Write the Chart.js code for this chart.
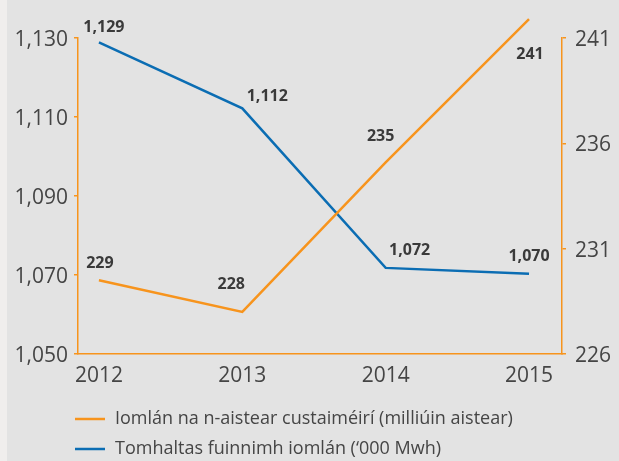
<!DOCTYPE html>
<html>
<head>
<meta charset="utf-8">
<script src="https://cdn.jsdelivr.net/npm/chart.js@4/dist/chart.umd.min.js"></script>
<style>
  html, body { margin: 0; padding: 0; background: #f0eeed; }
  #wrap { position: absolute; left: 7px; top: 0; width: 612px; height: 461px; background: #e3e3e3; }
  canvas { position: absolute; left: 0; top: 0; }
</style>
</head>
<body>
<div id="wrap"></div>
<canvas id="chart" width="619" height="461"></canvas>
<script>
const years = [2012, 2013, 2014, 2015];
const journeys = [229.5, 228, 235.1, 241.9];
const journeyLabels = ["229", "228", "235", "241"];
const energy = [1128.9, 1112.2, 1071.8, 1070.3];
const energyLabels = ["1,129", "1,112", "1,072", "1,070"];
const leftTicks = [1050, 1070, 1090, 1110, 1130];
const rightTicks = [226, 231, 236, 241];

const ORANGE = "#f7941d";
const BLUE = "#0b6db3";
const TEXT = "#454545";

// value labels, offset per point so they sit like the original
const valueLabels = {
    id: "valueLabels",
    afterDatasetsDraw(chart) {
        const ctx = chart.ctx;
        ctx.save();
        ctx.font = "bold 16px 'Open Sans'";
        ctx.fillStyle = "#3a3a3a";
        ctx.textAlign = "center";
        ctx.textBaseline = "middle";
        chart.data.datasets.forEach((ds, i) => {
            const meta = chart.getDatasetMeta(i);
            meta.data.forEach((pt, j) => {
                const off = ds.labelOffsets[j];
                ctx.fillText(ds.valueLabels[j], pt.x + off[0], pt.y + off[1]);
            });
        });
        ctx.restore();
    }
};

// legend drawn left aligned, one entry per row
const sideLegend = {
    id: "sideLegend",
    afterDraw(chart) {
        const ctx = chart.ctx;
        ctx.save();
        ctx.font = "18px 'Open Sans'";
        ctx.textBaseline = "middle";
        chart.data.datasets.forEach((ds, row) => {
            const y = 419 + row * 30;
            ctx.strokeStyle = ds.borderColor;
            ctx.lineWidth = 2.5;
            ctx.beginPath();
            ctx.moveTo(75, y);
            ctx.lineTo(105, y);
            ctx.stroke();
            ctx.fillStyle = TEXT;
            ctx.fillText(ds.label, 115, y);
        });
        ctx.restore();
    }
};

new Chart(document.getElementById("chart"), {
    type: "line",
    data: {
        datasets: [
            {
                label: "Iomlán na n-aistear custaiméirí (milliúin aistear)",
                data: years.map((y, i) => ({ x: y, y: journeys[i] })),
                valueLabels: journeyLabels,
                labelOffsets: [[1, -17], [-11, -27], [-5, -26], [1, 35]],
                borderColor: ORANGE,
                borderWidth: 2.5,
                pointRadius: 0,
                yAxisID: "yRight",
                clip: false
            },
            {
                label: "Tomhaltas fuinnimh iomlán (‘000 Mwh)",
                data: years.map((y, i) => ({ x: y, y: energy[i] })),
                valueLabels: energyLabels,
                labelOffsets: [[5, -15], [25, -12], [24, -17], [0, -17]],
                borderColor: BLUE,
                borderWidth: 2.5,
                pointRadius: 0,
                yAxisID: "yLeft",
                clip: false
            }
        ]
    },
    options: {
        responsive: false,
        animation: false,
        layout: { padding: { left: 0, right: 0, top: 38, bottom: 67 } },
        plugins: {
            legend: { display: false },
            tooltip: { enabled: false }
        },
        scales: {
            x: {
                type: "linear",
                min: 2011.854,
                max: 2015.23,
                afterBuildTicks: (scale) => { scale.ticks = years.map(v => ({ value: v })); },
                afterFit: (scale) => { scale.height = 40; },
                border: { color: ORANGE, width: 1.5 },
                grid: { display: false },
                ticks: {
                    color: TEXT,
                    font: { family: "'Open Sans'", size: 21 },
                    padding: 1,
                    callback: (v) => String(v)
                }
            },
            yLeft: {
                position: "left",
                min: 1050,
                max: 1130,
                afterBuildTicks: (scale) => { scale.ticks = leftTicks.map(v => ({ value: v })); },
                afterFit: (scale) => { scale.width = 78; },
                border: { color: ORANGE, width: 1.5 },
                grid: { drawOnChartArea: false, color: ORANGE, lineWidth: 1.5, tickLength: 4 },
                ticks: {
                    color: TEXT,
                    font: { family: "'Open Sans'", size: 21 },
                    padding: 6,
                    labelOffset: 2
                }
            },
            yRight: {
                position: "right",
                min: 226,
                max: 241,
                afterBuildTicks: (scale) => { scale.ticks = rightTicks.map(v => ({ value: v })); },
                afterFit: (scale) => { scale.width = 57; },
                border: { color: ORANGE, width: 1.5 },
                grid: { drawOnChartArea: false, color: ORANGE, lineWidth: 1.5, tickLength: 4 },
                ticks: {
                    color: TEXT,
                    font: { family: "'Open Sans'", size: 21 },
                    padding: 9,
                    labelOffset: 2
                }
            }
        }
    },
    plugins: [valueLabels, sideLegend]
});
</script>
</body>
</html>
